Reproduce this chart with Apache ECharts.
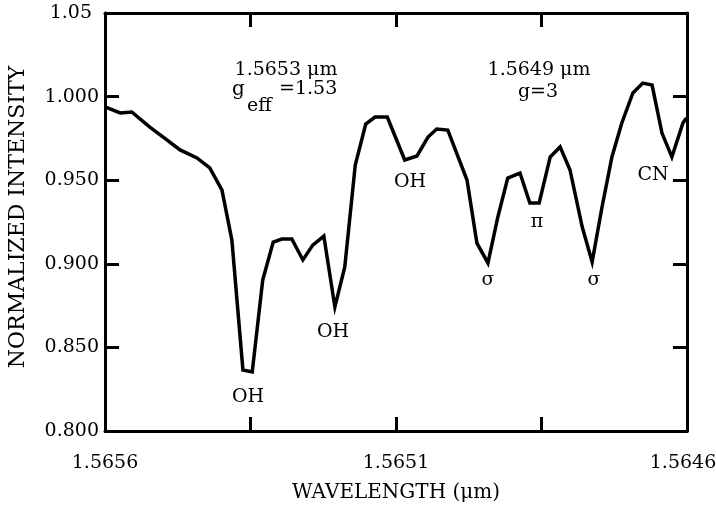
<!DOCTYPE html>
<html>
<head>
<meta charset="utf-8">
<script src="https://cdn.jsdelivr.net/npm/echarts@6/dist/echarts.min.js"></script>
<style>
  html, body { margin: 0; padding: 0; background: #fff; }
  #chart { width: 716px; height: 509px; }
</style>
</head>
<body>
<div id="chart"></div>
<script>
// wavelength (um)
const wavelength = [
  1.56560, 1.565574, 1.565554, 1.565523, 1.565500, 1.565471, 1.565442, 1.565420,
  1.565399, 1.565382, 1.565363, 1.565347, 1.565329, 1.565311, 1.565296, 1.565279,
  1.565260, 1.565243, 1.565224, 1.565205, 1.565188, 1.565170, 1.565152, 1.565136,
  1.565115, 1.565085, 1.565064, 1.565045, 1.565030, 1.565011, 1.564978, 1.564961,
  1.564942, 1.564925, 1.564908, 1.564887, 1.564870, 1.564854, 1.564835, 1.564818,
  1.564801, 1.564780, 1.564763, 1.564746, 1.564729, 1.564712, 1.564693, 1.564676,
  1.564660, 1.564643, 1.564626, 1.564607, 1.564601
]
// normalized intensity
const intensity = [
  0.9938, 0.9902, 0.9908, 0.9818, 0.9758, 0.9681, 0.9633, 0.9573,
  0.9441, 0.9142, 0.8365, 0.8353, 0.8903, 0.9130, 0.9148, 0.9148,
  0.9023, 0.9112, 0.9166, 0.8742, 0.8981, 0.9591, 0.9836, 0.9878,
  0.9878, 0.9621, 0.9645, 0.9758, 0.9806, 0.9800, 0.9501, 0.9124,
  0.9005, 0.9280, 0.9513, 0.9543, 0.9364, 0.9364, 0.9639, 0.9699,
  0.9561, 0.9220, 0.9011, 0.9340, 0.9639, 0.9842, 1.0022, 1.0081,
  1.0069, 0.9782, 0.9639, 0.9842, 0.9872
]

const xTicks = [1.56485, 1.5651, 1.56535]
const xLabels = [1.5646, 1.5651, 1.5656]
const yTicks = [0.85, 0.90, 0.95, 1.00]

const serif = 'DejaVu Serif'
const ink = '#000'

const chart = echarts.init(document.getElementById('chart'))

const labelFont = { color: ink, fontFamily: serif, fontSize: 19 }

const frameX = (pos, showLabels) => ({
  type: 'value',
  position: pos,
  inverse: true,
  min: 1.5646,
  max: 1.5656,
  axisLine: { show: true, onZero: false, lineStyle: { color: ink, width: 3 } },
  axisTick: { show: true, inside: true, length: 14, customValues: xTicks, lineStyle: { color: ink, width: 3 } },
  axisLabel: Object.assign({
    show: showLabels,
    customValues: xLabels,
    // the right-most label sits a little inside the edge
    formatter: v => Math.abs(v - 1.5646) < 1e-9 ? '{r|' + v.toFixed(4) + '}' : v.toFixed(4),
    margin: 23,
    rich: { r: Object.assign({ padding: [0, 8, 0, 0] }, labelFont) }
  }, labelFont),
  splitLine: { show: false }
})

const frameY = (pos, showLabels) => ({
  type: 'value',
  position: pos,
  min: 0.8,
  max: 1.05,
  interval: 0.05,
  axisLine: { show: true, onZero: false, lineStyle: { color: ink, width: 3 } },
  axisTick: { show: true, inside: true, length: 14, customValues: yTicks, lineStyle: { color: ink, width: 3 } },
  axisLabel: Object.assign({
    show: showLabels,
    formatter: v => Math.abs(v - 1.05) < 1e-9 ? '{t|1.05}' : v.toFixed(3),
    margin: 6,
    rich: { t: Object.assign({ padding: [0, 7, 0, 0] }, labelFont) }
  }, labelFont),
  splitLine: { show: false }
})

const note = (text, x, y, size) => ({
  type: 'text',
  x: x,
  y: y,
  style: {
    text: text,
    fill: ink,
    font: (size || 19) + 'px "' + serif + '"',
    align: 'center',
    verticalAlign: 'middle'
  }
})

const noteLeft = (text, x, y, size) => {
  const t = note(text, x, y, size)
  t.style.align = 'left'
  return t
}

const xMain = frameX('bottom', true)
xMain.name = 'WAVELENGTH (\u03bcm)'
xMain.nameLocation = 'middle'
xMain.nameGap = 52
xMain.nameTextStyle = { color: ink, fontFamily: serif, fontSize: 20 }

const yMain = frameY('left', true)
yMain.name = 'NORMALIZED INTENSITY'
yMain.nameLocation = 'middle'
yMain.nameGap = 76
yMain.nameTextStyle = { color: ink, fontFamily: serif, fontSize: 22, padding: [0, 0, 0, 10] }

chart.setOption({
  animation: false,
  backgroundColor: '#fff',
  grid: { left: 105, right: 29, top: 13, bottom: 78, containLabel: false, outerBoundsMode: 'none' },
  xAxis: [xMain, frameX('top', false)],
  yAxis: [yMain, frameY('right', false)],
  series: [{
    type: 'line',
    xAxisIndex: 0,
    yAxisIndex: 0,
    data: wavelength.map((w, i) => [w, intensity[i]]),
    symbol: 'none',
    lineStyle: { color: ink, width: 3.5, join: 'miter' }
  }],
  graphic: [
    note('1.5653 \u03bcm', 286, 70),
    noteLeft('g', 232, 90, 20),
    noteLeft('eff', 247, 106, 19),
    noteLeft('=1.53', 279, 89),
    note('1.5649 \u03bcm', 539, 70),
    note('g=3', 538, 92),
    note('OH', 248, 397),
    note('OH', 333, 332),
    note('OH', 410, 182),
    note('\u03c3', 488, 280),
    note('\u03c3', 594, 280),
    note('\u03c0', 537, 222),
    note('CN', 653, 175)
  ]
})
</script>
</body>
</html>
